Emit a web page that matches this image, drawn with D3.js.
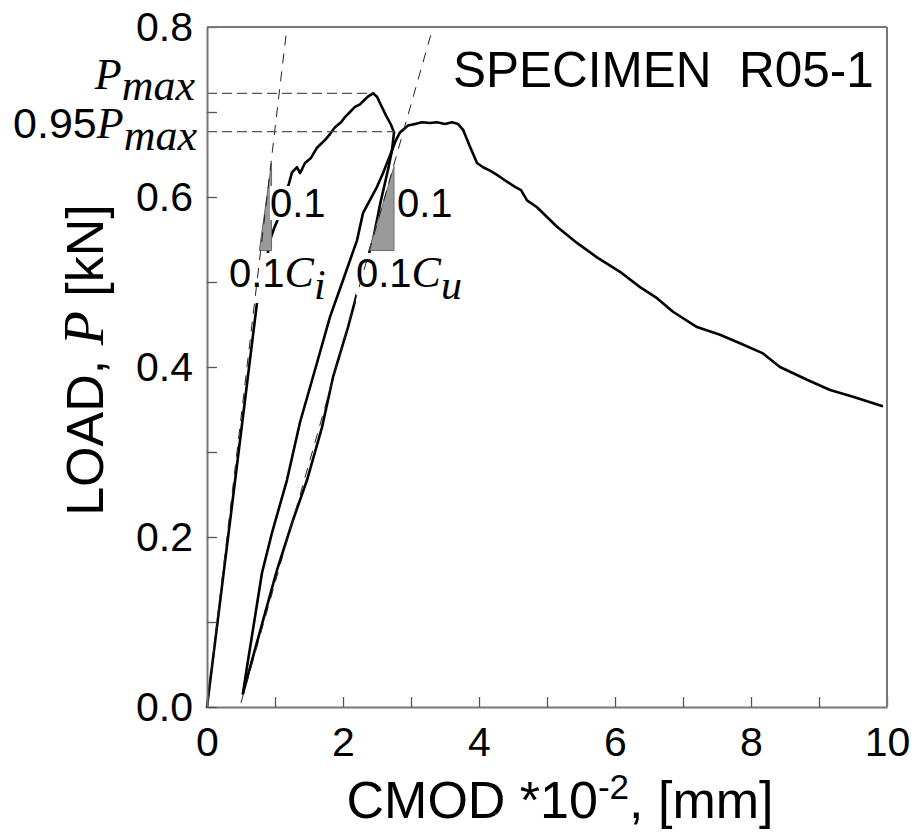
<!DOCTYPE html>
<html><head><meta charset="utf-8">
<script src="https://cdn.jsdelivr.net/npm/d3@7"></script>
<style>body{margin:0;background:#fff}svg{display:block}</style>
</head><body>
<script>
// ---- data (CMOD *10^-2 mm, load kN) ----
const initialLoading = [[0,0],[0.38,0.245],[0.75,0.485],[0.853,0.516],[0.93,0.55],[0.99,0.564],[1.029,0.571],[1.118,0.596],[1.206,0.616],[1.25,0.629],[1.324,0.635],[1.368,0.628],[1.441,0.640],[1.529,0.646],[1.618,0.658],[1.735,0.667],[1.809,0.674],[1.882,0.682],[1.971,0.688],[2.029,0.694],[2.103,0.700],[2.176,0.706],[2.25,0.709],[2.324,0.715],[2.382,0.719],[2.441,0.722]];
const postPeakDrop = [[2.441,0.722],[2.5,0.718],[2.559,0.708],[2.632,0.696],[2.706,0.685],[2.75,0.676]];
const unloading = [[2.75,0.676],[2.721,0.655],[2.662,0.632],[2.544,0.591],[2.441,0.549],[2.221,0.491],[2.074,0.447],[1.853,0.388],[1.691,0.329],[1.471,0.267],[1.265,0.220],[1.029,0.161],[0.824,0.102],[0.676,0.059],[0.529,0.016]];
const reloading = [[0.529,0.016],[0.588,0.047],[0.676,0.091],[0.809,0.158],[0.956,0.205],[1.176,0.267],[1.368,0.335],[1.618,0.405],[1.809,0.459],[2.0,0.502],[2.206,0.549],[2.294,0.581],[2.5,0.612],[2.588,0.628],[2.691,0.649],[2.779,0.667],[2.838,0.676],[2.956,0.684],[3.059,0.686],[3.162,0.688],[3.279,0.687],[3.382,0.688],[3.5,0.686],[3.603,0.688],[3.691,0.686],[3.765,0.679]];
const softening = [[3.765,0.679],[3.868,0.659],[3.971,0.640],[4.059,0.635],[4.162,0.631],[4.265,0.626],[4.412,0.618],[4.529,0.612],[4.618,0.608],[4.706,0.596],[4.853,0.588],[5.147,0.565],[5.441,0.546],[5.735,0.529],[6.074,0.512],[6.368,0.494],[6.618,0.481],[6.853,0.465],[7.206,0.447],[7.544,0.438],[7.838,0.428],[8.176,0.416],[8.426,0.400],[8.824,0.385],[9.162,0.373],[9.5,0.365],[9.926,0.354]];

const pMax = 0.722, pMaxCmod = 2.441;
const p95 = 0.677, p95Cmod = 2.75;
const ciLine = [[0,0],[1.176,0.8]];
const cuLine = [[0.5,0.005],[3.324,0.8]];
const ciTriangle = [[0.769,0.537],[0.949,0.640],[0.949,0.537]];
const cuTriangle = [[2.382,0.537],[2.75,0.636],[2.75,0.537]];

const xTickValues = [0,1,2,3,4,5,6,7,8,9,10];
const yTickValues = [0,1,2,3,4,5,6,7,8].map(i => i/10);
const title = "SPECIMEN  R05-1";

// ---- drawing ----
const W = 918, H = 832;
const sans = "'Liberation Sans', Arial, sans-serif";
const serif = "'Liberation Serif', 'Times New Roman', serif";
const x = d3.scaleLinear().domain([0,10]).range([207,887]);
const y = d3.scaleLinear().domain([0,0.8]).range([707,27]);

const svg = d3.select("body").append("svg").attr("width", W).attr("height", H);
const line = d3.line().x(d => x(d[0])).y(d => y(d[1]));

// solid curves
const curveG = svg.append("g");
[initialLoading, postPeakDrop, unloading, reloading, softening].forEach(seg => {
  curveG.append("path").attr("d", line(seg)).attr("fill","none")
    .attr("stroke","#000").attr("stroke-width",2.6)
    .attr("stroke-linejoin","round").attr("stroke-linecap","round");
});

// triangles
[ciTriangle, cuTriangle].forEach(t => {
  svg.append("path").attr("d", line(t) + "Z").attr("fill","#9a9a9a")
    .attr("stroke","#6a6a6a").attr("stroke-width",1);
});

// annotation labels with white backgrounds
const annG = svg.append("g");
function label(px, py, parts) {
  const g = annG.append("g");
  const rect = g.append("rect").attr("fill","#fff");
  const t = g.append("text").attr("x", px).attr("y", py);
  parts.forEach(p => {
    const ts = t.append("tspan").text(p.t)
      .attr("font-family", p.serif ? serif : sans)
      .attr("font-style", p.serif ? "italic" : "normal")
      .attr("font-size", p.fs || 40);
    if (p.dy) ts.attr("dy", p.dy);
  });
  const b = t.node().getBBox();
  rect.attr("x", b.x).attr("y", b.y + 5).attr("width", b.width).attr("height", b.height - 10);
}
label(270, 217, [{t:"0.1"}]);
label(397, 217, [{t:"0.1"}]);
label(229, 287, [{t:"0.1"},{t:"C",serif:true,fs:44},{t:"i",serif:true,fs:42,dy:12}]);
label(356, 287, [{t:"0.1"},{t:"C",serif:true,fs:44},{t:"u",serif:true,fs:42,dy:12}]);

// compliance dashed lines
[ciLine, cuLine].forEach(l => {
  svg.append("path").attr("d", line(l)).attr("fill","none")
    .attr("stroke","#222").attr("stroke-width",1).attr("stroke-dasharray","10,8");
});

// Pmax dashed lines
svg.append("line").attr("x1", x(0)).attr("x2", x(pMaxCmod)).attr("y1", y(pMax)).attr("y2", y(pMax))
  .attr("stroke","#555").attr("stroke-width",1.2).attr("stroke-dasharray","10,5");
svg.append("line").attr("x1", x(0)).attr("x2", x(p95Cmod)).attr("y1", y(p95)).attr("y2", y(p95))
  .attr("stroke","#555").attr("stroke-width",1.2).attr("stroke-dasharray","10,5");

// axes
const axisColor = "#777";
const xAxis = d3.axisBottom(x).tickValues(xTickValues).tickSize(-10).tickSizeOuter(0).tickPadding(20)
  .tickFormat(d => d % 2 === 0 ? d : "");
const yAxis = d3.axisLeft(y).tickValues(yTickValues).tickSize(-10).tickSizeOuter(0).tickPadding(14)
  .tickFormat(d => Math.round(d*10) % 2 === 0 ? d.toFixed(1) : "");
const gx = svg.append("g").attr("transform", `translate(0,${y(0)})`).call(xAxis);
const gy = svg.append("g").attr("transform", `translate(${x(0)},0)`).call(yAxis);
[gx, gy].forEach(g => {
  g.select(".domain").attr("stroke", axisColor).attr("stroke-width", 2);
  g.selectAll(".tick line").attr("stroke", "#555").attr("stroke-width", 1.3);
  g.selectAll(".tick text").attr("fill","#000").attr("font-family", sans).attr("font-size", 41);
});
// top and right frame
svg.append("line").attr("x1", x(0)).attr("x2", x(10)).attr("y1", y(0.8)).attr("y2", y(0.8))
  .attr("stroke", axisColor).attr("stroke-width", 2);
svg.append("line").attr("x1", x(10)).attr("x2", x(10)).attr("y1", y(0.8)).attr("y2", y(0))
  .attr("stroke", axisColor).attr("stroke-width", 2);

// Pmax labels
const pl = svg.append("text").attr("x", 195).attr("y", 89).attr("text-anchor","end")
  .attr("font-family", serif).attr("font-style","italic").attr("font-size", 44);
pl.append("tspan").text("P");
pl.append("tspan").attr("dy", 11).text("max");
const p95l = svg.append("text").attr("x", 197).attr("y", 138).attr("text-anchor","end").attr("font-size", 43);
p95l.append("tspan").attr("font-family", sans).text("0.95");
p95l.append("tspan").attr("font-family", serif).attr("font-style","italic").attr("font-size", 44).text("P");
p95l.append("tspan").attr("font-family", serif).attr("font-style","italic").attr("font-size", 44).attr("dy", 12).text("max");

// title
svg.append("text").attr("x", 453).attr("y", 87).attr("font-family", sans).attr("font-size", 49.5)
  .style("white-space","pre").text(title);

// axis titles
const xl = svg.append("text").attr("x", 560).attr("y", 818).attr("text-anchor","middle")
  .attr("font-family", sans).attr("font-size", 52);
xl.append("tspan").text("CMOD *10");
xl.append("tspan").attr("font-size", 35).attr("dy", -19).text("-2");
xl.append("tspan").attr("dy", 19).text(", [mm]");

const yl = svg.append("text").attr("transform", "translate(103,360) rotate(-90)").attr("text-anchor","middle")
  .attr("font-family", sans).attr("font-size", 52).style("white-space","pre");
yl.append("tspan").text("LOAD, ");
yl.append("tspan").attr("font-family", serif).attr("font-style","italic").attr("font-size", 56).text("P");
yl.append("tspan").text(" [kN]");
</script>
</body></html>
